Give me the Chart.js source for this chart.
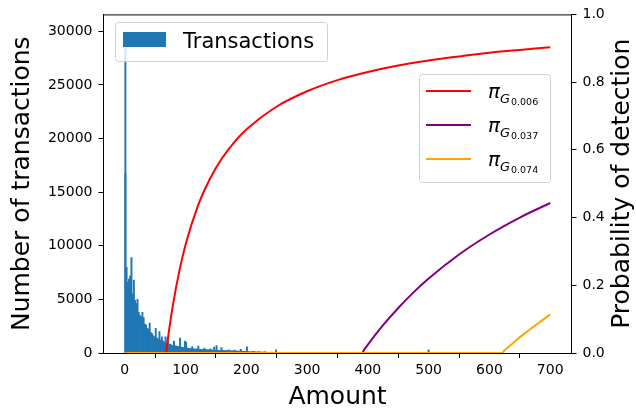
<!DOCTYPE html>
<html>
<head>
<meta charset="utf-8">
<script src="https://cdn.jsdelivr.net/npm/chart.js@4.4.1/dist/chart.umd.min.js"></script>
<style>
  html, body { margin: 0; padding: 0; background: #fff; }
  #wrap { width: 636px; height: 408px; }
</style>
</head>
<body>
<div id="wrap"><canvas id="chart" width="636" height="408"></canvas></div>
<script>
// histogram of amounts, bins of 2 starting at 0
const binWidth = 2;
const histCounts = [
  16700, 8000, 6600, 6900, 7200, 8900, 5500, 6800, 4900, 4600,
  5000, 3800, 3500, 3400, 3800, 3300, 2700, 2600, 2300, 2200,
  2800, 1900, 1800, 1600, 1500, 2300, 1400, 1300, 2000, 1200,
  1500, 1100, 1000, 1500, 900, 1300, 850, 800, 750, 720,
  1100, 680, 650, 620, 600, 1400, 560, 540, 500, 1100,
  1000, 450, 440, 420, 410, 600, 390, 380, 370, 360,
  650, 350, 340, 330, 320, 450, 310, 300, 300, 290,
  380, 280, 280, 550, 270, 700, 260, 250, 250, 500,
  240, 230, 230, 220, 220, 300, 210, 210, 200, 200,
  280, 190, 180, 180, 170, 350, 160, 160, 150, 150,
  580, 130, 125, 120, 115, 150, 110, 105, 100, 95,
  130, 90, 85, 80, 80, 110, 75, 70, 70, 65,
  90, 60, 60, 55, 300
];
// single amounts outside the regular bins
const extraAmounts = [1, 252, 256, 260, 266, 272, 280, 290, 300, 320, 350, 400, 450, 500, 550, 600];
const extraCounts = [29800, 50, 45, 40, 35, 30, 30, 25, 60, 20, 40, 30, 20, 300, 15, 15];

// detection probability curves
const redAmounts = [0, 68, 70, 75, 80, 90, 100, 120, 140, 160, 180, 200, 250, 300, 350, 400, 450, 500, 550, 600, 650, 700];
const redProb = [0, 0, 0.03, 0.093, 0.15, 0.244, 0.32, 0.433, 0.514, 0.575, 0.622, 0.66, 0.728, 0.773, 0.806, 0.83, 0.849, 0.864, 0.876, 0.887, 0.895, 0.903];
const purpleAmounts = [0, 390, 395, 400, 425, 450, 475, 500, 550, 600, 650, 700];
const purpleProb = [0, 0, 0.013, 0.025, 0.082, 0.133, 0.179, 0.22, 0.291, 0.35, 0.4, 0.443];
const orangeAmounts = [0, 620, 625, 630, 640, 660, 680, 700];
const orangeProb = [0, 0, 0.008, 0.016, 0.031, 0.061, 0.088, 0.114];

const xTicks = [0, 100, 200, 300, 400, 500, 600, 700];
const countTicks = [0, 5000, 10000, 15000, 20000, 25000, 30000];
const probTicks = [0, 0.2, 0.4, 0.6, 0.8, 1.0];

const barColor = '#1f77b4';
const lineSeries = [
  { label: 'πG0.006', sub: '0.006', color: '#ff0000', xs: redAmounts, ys: redProb },
  { label: 'πG0.037', sub: '0.037', color: '#800080', xs: purpleAmounts, ys: purpleProb },
  { label: 'πG0.074', sub: '0.074', color: '#ffa500', xs: orangeAmounts, ys: orangeProb }
];

const histData = histCounts.map((c, i) => ({ x: i * binWidth + binWidth / 2, y: c }))
  .concat(extraAmounts.map((a, i) => ({ x: a, y: extraCounts[i] })));

Chart.defaults.font.family = "'DejaVu Sans', sans-serif";
Chart.defaults.color = '#000';

function keepTicks(list) {
  return scale => { scale.ticks = list.map(v => ({ value: v })); };
}

const paperLegends = {
  id: 'paperLegends',
  afterDraw(chart) {
    const ctx = chart.ctx;
    const area = chart.chartArea;
    ctx.save();

    // top spine
    ctx.strokeStyle = '#000';
    ctx.lineWidth = 1;
    ctx.beginPath();
    ctx.moveTo(area.left, area.top + 0.5);
    ctx.lineTo(area.right, area.top + 0.5);
    ctx.stroke();

    const frame = (x, y, w, h) => {
      ctx.beginPath();
      ctx.roundRect(x, y, w, h, 3);
      ctx.fillStyle = 'rgba(255,255,255,0.8)';
      ctx.fill();
      ctx.strokeStyle = '#d0d0d0';
      ctx.lineWidth = 1;
      ctx.stroke();
    };

    // histogram legend
    frame(115.5, 22.5, 212, 39);
    ctx.fillStyle = barColor;
    ctx.fillRect(123, 32, 43, 15);
    ctx.fillStyle = '#000';
    ctx.textBaseline = 'alphabetic';
    ctx.textAlign = 'left';
    ctx.font = "21px 'DejaVu Sans'";
    ctx.fillText(chart.data.datasets[3].label, 183, 48);

    // curves legend
    frame(419.5, 74.5, 131, 108);
    lineSeries.forEach((s, i) => {
      const y = 91 + i * 34;
      ctx.strokeStyle = s.color;
      ctx.lineWidth = 2;
      ctx.beginPath();
      ctx.moveTo(426, y);
      ctx.lineTo(471, y);
      ctx.stroke();
      ctx.fillStyle = '#000';
      ctx.font = "italic 20px 'DejaVu Sans'";
      ctx.fillText('π', 488, y + 7);
      ctx.font = "italic 13px 'DejaVu Sans'";
      ctx.fillText('G', 500, y + 12);
      ctx.font = "9.5px 'DejaVu Sans'";
      ctx.fillText(s.sub, 511, y + 14);
    });

    // right axis title, reads bottom to top like the left one
    ctx.translate(629, (area.top + area.bottom) / 2);
    ctx.rotate(-Math.PI / 2);
    ctx.textAlign = 'center';
    ctx.font = "25px 'DejaVu Sans'";
    ctx.fillText('Probability of detection', 0, 0);
    ctx.restore();
  }
};

const axisGrid = {
  drawOnChartArea: false,
  drawTicks: true,
  tickLength: 5,
  tickColor: '#000',
  tickWidth: 1
};

new Chart(document.getElementById('chart'), {
  type: 'bar',
  data: {
    datasets: lineSeries.slice().reverse().map((s, i) => ({
      type: 'line',
      label: s.label,
      data: s.xs.map((x, j) => ({ x: x, y: s.ys[j] })),
      borderColor: s.color,
      borderWidth: 2,
      pointRadius: 0,
      cubicInterpolationMode: 'monotone',
      fill: false,
      yAxisID: 'y1',
      order: i
    })).concat([{
      type: 'bar',
      label: 'Transactions',
      data: histData,
      backgroundColor: barColor,
      borderWidth: 0,
      barThickness: 1.3,
      yAxisID: 'y',
      order: 5
    }])
  },
  options: {
    responsive: false,
    animation: false,
    layout: { padding: { top: 12, left: 0, right: 0, bottom: 0 } },
    plugins: {
      legend: { display: false },
      tooltip: { enabled: false }
    },
    scales: {
      x: {
        type: 'linear',
        min: -35,
        max: 735,
        offset: false,
        afterBuildTicks: keepTicks(xTicks),
        afterFit: s => { s.height = 55; },
        grid: axisGrid,
        border: { color: '#000', width: 1 },
        ticks: { font: { size: 14 }, padding: 4, maxRotation: 0, callback: v => String(v) },
        title: { display: true, text: 'Amount', font: { size: 25, lineHeight: 1 }, padding: { top: 0, bottom: -2 } }
      },
      y: {
        position: 'left',
        min: 0,
        max: 31574,
        afterBuildTicks: keepTicks(countTicks),
        afterFit: s => { s.width = 103.5; },
        grid: axisGrid,
        border: { color: '#000', width: 1 },
        ticks: { font: { size: 14 }, padding: 6, callback: v => String(v) },
        title: { display: true, text: 'Number of transactions', font: { size: 25, lineHeight: 1 }, padding: { top: 10, bottom: 0 } }
      },
      y1: {
        position: 'right',
        min: 0,
        max: 1,
        afterBuildTicks: keepTicks(probTicks),
        afterFit: s => { s.width = 64.5; },
        grid: axisGrid,
        border: { color: '#000', width: 1 },
        ticks: { font: { size: 14 }, padding: 6, callback: v => v.toFixed(1) }
      }
    }
  },
  plugins: [paperLegends]
});
</script>
</body>
</html>
